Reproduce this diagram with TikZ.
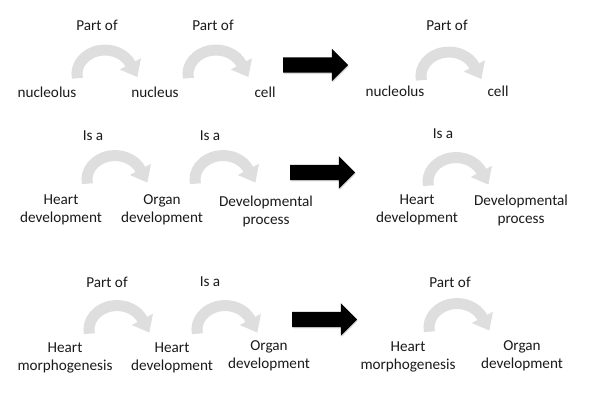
\documentclass[tikz,border=0pt]{standalone}
\usepackage{fontspec}
\setmainfont{Carlito}
\usetikzlibrary{arrows.meta,shapes.arrows,shadows}
\definecolor{arc_gray}{RGB}{222, 222, 222}
\definecolor{txt_black}{RGB}{26, 26, 26}
\newcommand{\termfont}{\fontsize{15.2}{18}\selectfont}
\tikzstyle{term}=[align=center,inner sep=0pt,text=txt_black,font=\termfont]
\tikzstyle{rel}=[inner sep=0pt,text=txt_black,font=\termfont]
\tikzstyle{relarrow}=[draw=arc_gray,line width=11pt,
  -{Triangle[length=15pt,width=23pt]}]
\tikzstyle{inferarrow}=[single arrow,fill=black,draw=none,anchor=tail,
  minimum height=65pt,inner xsep=0pt,inner ysep=7.5pt,outer sep=0pt,
  single arrow head extend=8.5pt,
  drop shadow={fill=black!50,opacity=0.3,shadow xshift=0.8pt,shadow yshift=-1.2pt}]

\begin{document}
\begin{tikzpicture}[x=1pt,y=1pt]
    \useasboundingbox (0,0) rectangle (602,413);
    % row 1
    \node [style=rel] (partof1) at (97,388) {Part of};
    \node [style=rel] (partof2) at (213,388) {Part of};
    \node [style=rel] (partof3) at (447,388) {Part of};
    \node [style=term] (nucleolus) at (47,321) {nucleolus};
    \node [style=term] (nucleus) at (155,321) {nucleus};
    \node [style=term] (cell) at (265,321) {cell};
    \node [style=term] (nucleolusR) at (395,322) {nucleolus};
    \node [style=term] (cellR) at (498,322) {cell};
    \coordinate (r1a) at (77.4,334.8);
    \coordinate (r1b) at (188.4,334.8);
    \coordinate (r1c) at (421.4,332.8);
    \node [style=inferarrow] (infer1) at (283,348) {};
    % row 2
    \node [style=rel] (isa1) at (93,277) {Is a};
    \node [style=rel] (isa2) at (210,277) {Is a};
    \node [style=rel] (isa3) at (443,279) {Is a};
    \node [style=term] (heartdev) at (61,203) {Heart\\development};
    \node [style=term] (organdev) at (162,203) {Organ\\development};
    \node [style=term] (devproc) at (266,202) {Developmental\\process};
    \node [style=term] (heartdevR) at (417,203) {Heart\\development};
    \node [style=term] (devprocR) at (521,203) {Developmental\\process};
    \coordinate (r2a) at (87.4,229.3);
    \coordinate (r2b) at (195.4,229.3);
    \coordinate (r2c) at (428.4,227.3);
    \node [style=inferarrow] (infer2) at (290,240.5) {};
    % row 3
    \node [style=rel] (partof4) at (107,131) {Part of};
    \node [style=rel] (isa4) at (210,131) {Is a};
    \node [style=rel] (partof5) at (450,131) {Part of};
    \node [style=term] (heartmorph) at (65,55) {Heart\\morphogenesis};
    \node [style=term] (heartdev3) at (172,55) {Heart\\development};
    \node [style=term] (organdev3) at (269,57) {Organ\\development};
    \node [style=term] (heartmorphR) at (408,56) {Heart\\morphogenesis};
    \node [style=term] (organdevR) at (522,57) {Organ\\development};
    \coordinate (r3a) at (89.4,79.3);
    \coordinate (r3b) at (197.4,79.3);
    \coordinate (r3c) at (429.4,81.3);
    \node [style=inferarrow] (infer3) at (292,93.5) {};
    % curved relation arrows
    \draw [style=relarrow] (r1a) arc[start angle=190,end angle=25,x radius=28,y radius=24] -- ++(-62:15);
    \draw [style=relarrow] (r1b) arc[start angle=190,end angle=25,x radius=28,y radius=24] -- ++(-62:15);
    \draw [style=relarrow] (r1c) arc[start angle=190,end angle=25,x radius=28,y radius=24] -- ++(-62:15);
    \draw [style=relarrow] (r2a) arc[start angle=190,end angle=25,x radius=28,y radius=24] -- ++(-62:15);
    \draw [style=relarrow] (r2b) arc[start angle=190,end angle=25,x radius=28,y radius=24] -- ++(-62:15);
    \draw [style=relarrow] (r2c) arc[start angle=190,end angle=25,x radius=28,y radius=24] -- ++(-62:15);
    \draw [style=relarrow] (r3a) arc[start angle=190,end angle=25,x radius=28,y radius=24] -- ++(-62:15);
    \draw [style=relarrow] (r3b) arc[start angle=190,end angle=25,x radius=28,y radius=24] -- ++(-62:15);
    \draw [style=relarrow] (r3c) arc[start angle=190,end angle=25,x radius=28,y radius=24] -- ++(-62:15);
\end{tikzpicture}
\end{document}
